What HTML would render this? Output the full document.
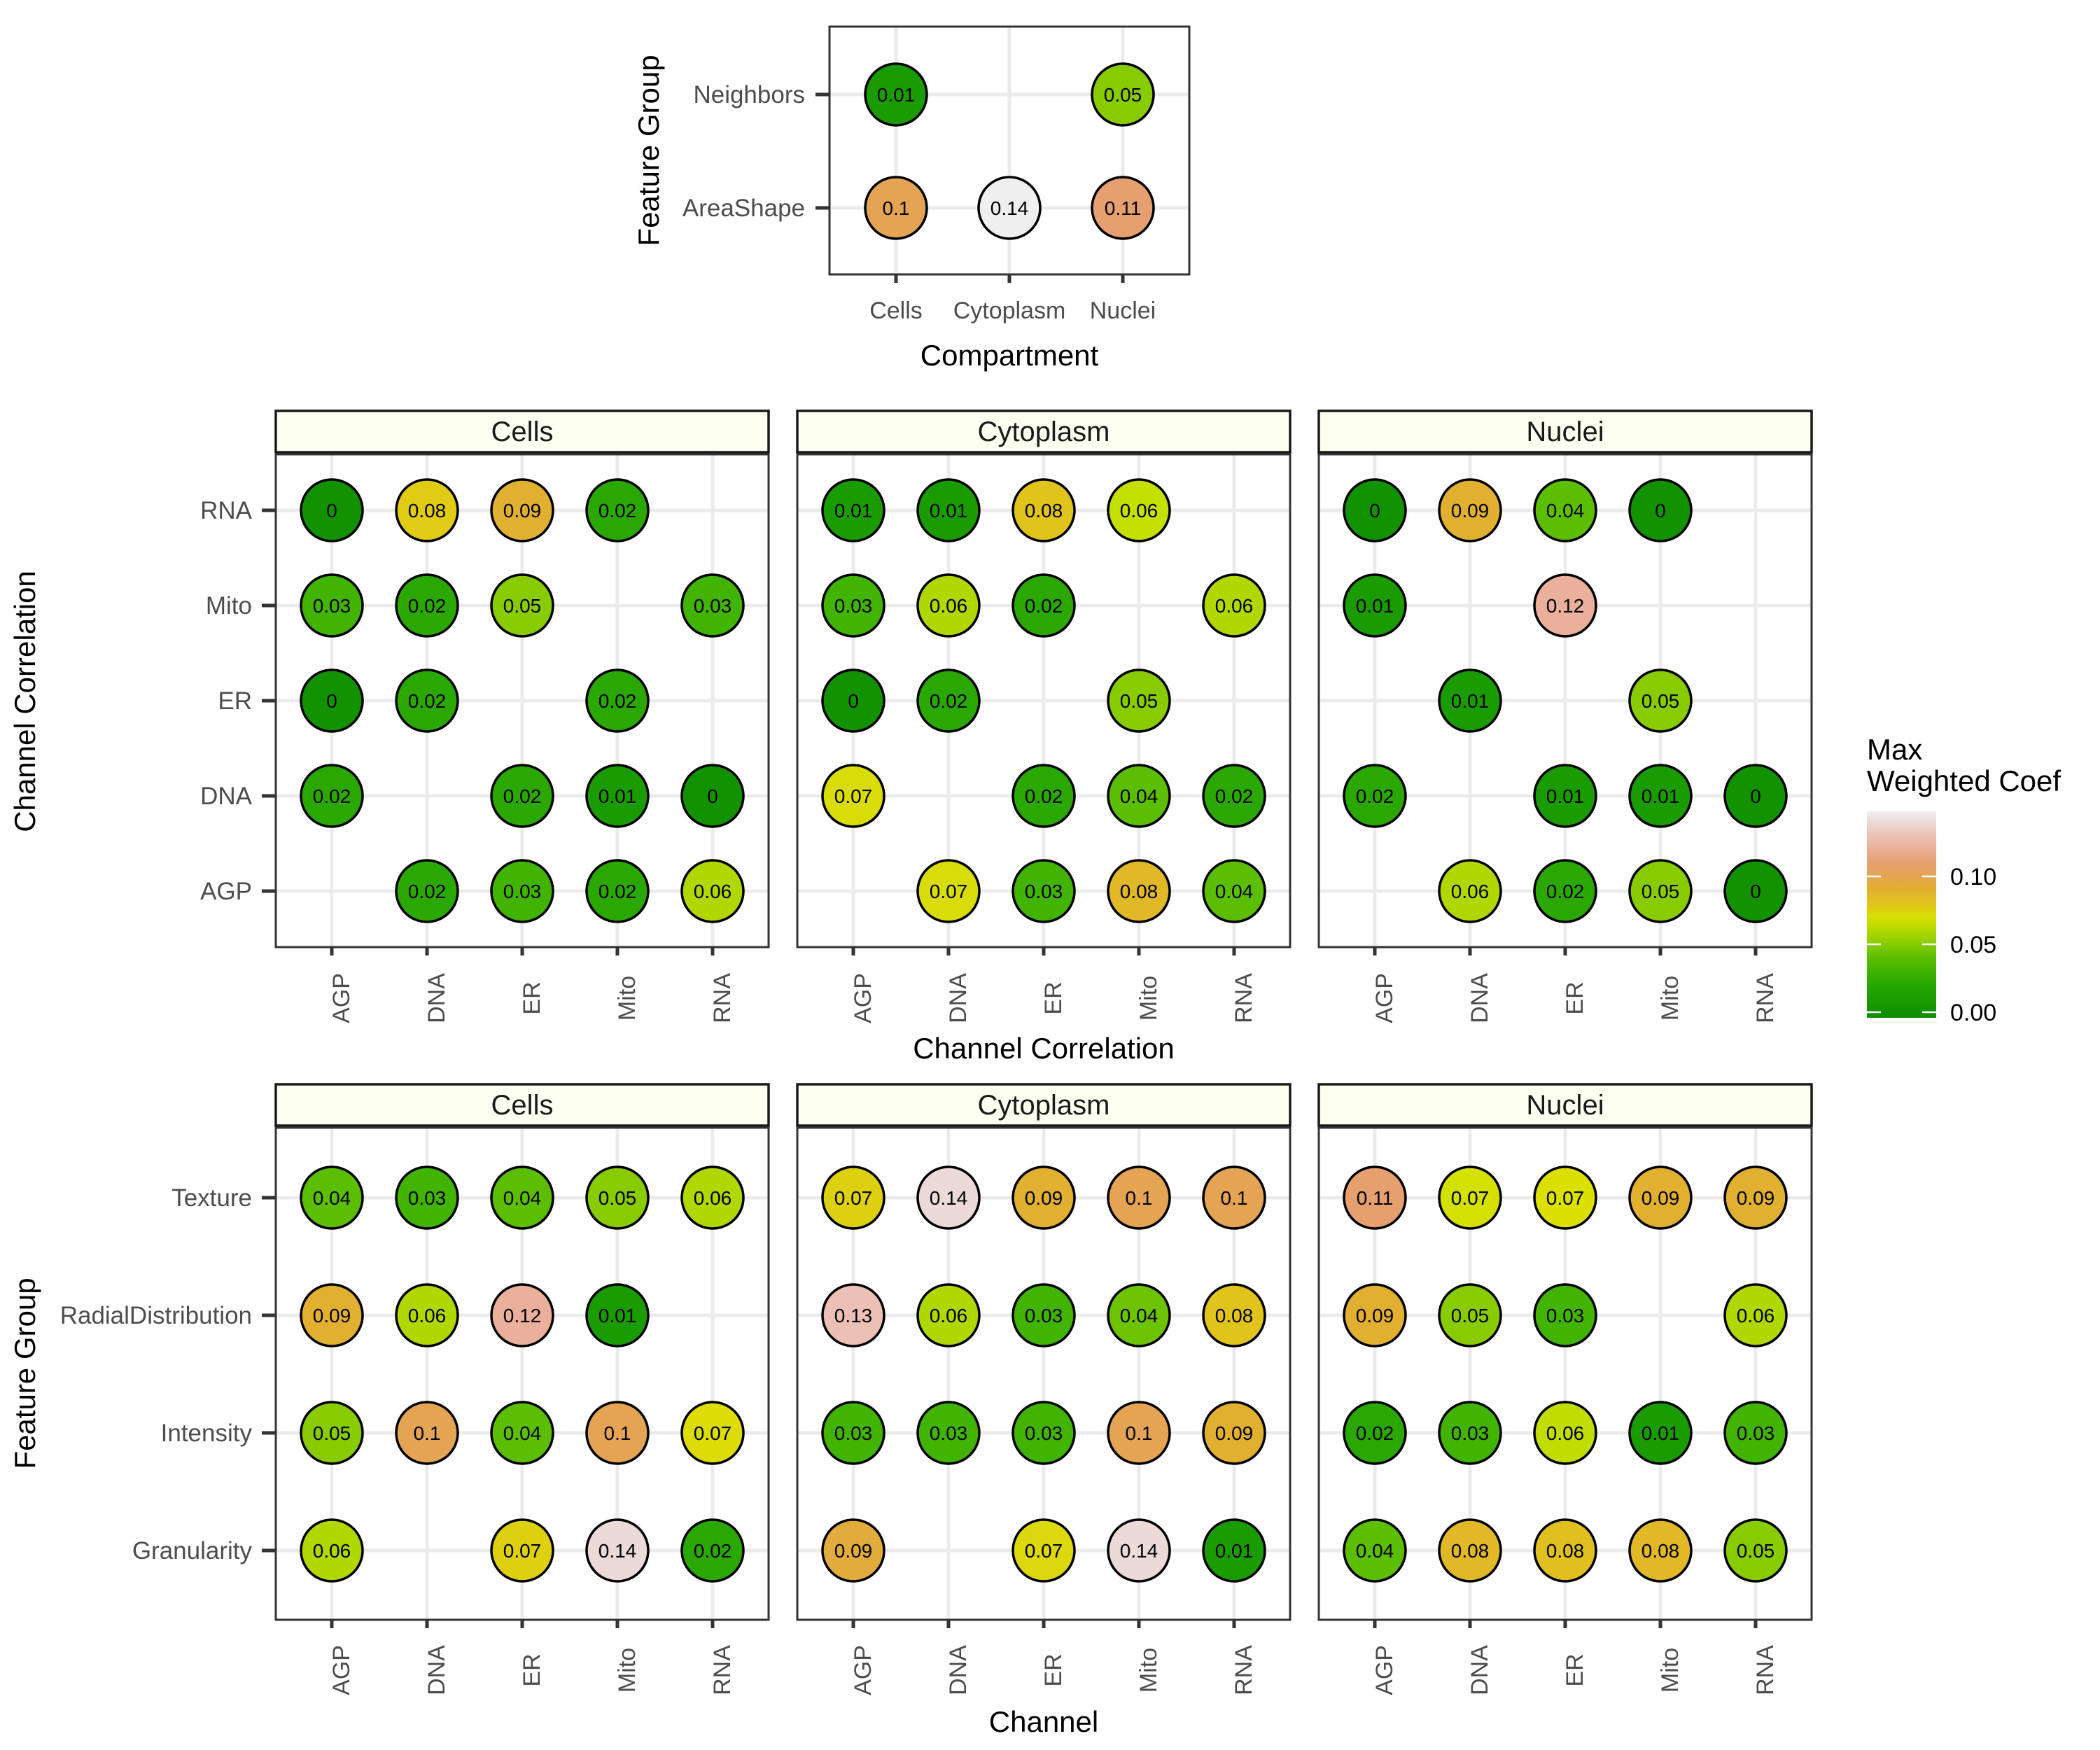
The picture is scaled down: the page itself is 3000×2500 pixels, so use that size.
<!DOCTYPE html>
<html><head><meta charset="utf-8"><style>
html,body{margin:0;padding:0;background:#fff;}
svg{display:block;font-family:"Liberation Sans",Arial,sans-serif;}
.c{stroke:#000;stroke-width:3.5}
.v{font-size:28px;text-anchor:middle;fill:#000}
.yl{font-size:35px;text-anchor:end;fill:#4d4d4d}
.xl{font-size:34px;text-anchor:middle;fill:#4d4d4d}
.st{font-size:40px;text-anchor:middle;fill:#1a1a1a}
.at{font-size:42px;text-anchor:middle;fill:#000}
.g{stroke:#ebebeb;stroke-width:5}
.tk{stroke:#333;stroke-width:5}
.pb{fill:none;stroke:#333;stroke-width:3}
.sb{fill:#fdfff0;stroke:#1a1a1a;stroke-width:3.5}
</style></head><body>
<svg width="3000" height="2500" viewBox="0 0 3000 2500" xmlns="http://www.w3.org/2000/svg">
<defs>
<linearGradient id="lg" x1="0" y1="0" x2="0" y2="1">
<stop offset="0" stop-color="#f0f0f0"/><stop offset="0.05" stop-color="#ecdcd8"/><stop offset="0.12" stop-color="#ecc0b4"/><stop offset="0.18" stop-color="#eab09c"/><stop offset="0.25" stop-color="#e6a070"/><stop offset="0.31" stop-color="#e4a454"/><stop offset="0.38" stop-color="#e2b030"/><stop offset="0.45" stop-color="#e0c41c"/><stop offset="0.51" stop-color="#d8e000"/><stop offset="0.58" stop-color="#b0d800"/><stop offset="0.64" stop-color="#88cc00"/><stop offset="0.71" stop-color="#5cbe00"/><stop offset="0.77" stop-color="#40b400"/><stop offset="0.84" stop-color="#2aa800"/><stop offset="0.91" stop-color="#1a9c00"/><stop offset="0.97" stop-color="#139200"/><stop offset="1" stop-color="#109000"/>
</linearGradient>
</defs>

<!-- TOP PANEL -->
<rect x="1185" y="38" width="514" height="354" fill="#fff"/>
<line class="g" x1="1280" y1="38" x2="1280" y2="392"/><line class="g" x1="1442" y1="38" x2="1442" y2="392"/><line class="g" x1="1604" y1="38" x2="1604" y2="392"/>
<line class="g" x1="1185" y1="135" x2="1699" y2="135"/><line class="g" x1="1185" y1="297" x2="1699" y2="297"/>
<circle class="c" cx="1280" cy="135" r="44" fill="#1a9c00"/><text class="v" x="1280" y="145">0.01</text>
<circle class="c" cx="1604" cy="135" r="44" fill="#88cc00"/><text class="v" x="1604" y="145">0.05</text>
<circle class="c" cx="1280" cy="297" r="44" fill="#e4a454"/><text class="v" x="1280" y="307">0.1</text>
<circle class="c" cx="1442" cy="297" r="44" fill="#efefef"/><text class="v" x="1442" y="307">0.14</text>
<circle class="c" cx="1604" cy="297" r="44" fill="#e6a070"/><text class="v" x="1604" y="307">0.11</text>
<rect class="pb" x="1185" y="38" width="514" height="354"/>
<line class="tk" x1="1165" y1="135" x2="1185" y2="135"/><line class="tk" x1="1165" y1="297" x2="1185" y2="297"/>
<line class="tk" x1="1280" y1="392" x2="1280" y2="404"/><line class="tk" x1="1442" y1="392" x2="1442" y2="404"/><line class="tk" x1="1604" y1="392" x2="1604" y2="404"/>
<text class="yl" x="1150" y="147">Neighbors</text><text class="yl" x="1150" y="309">AreaShape</text>
<text class="xl" x="1280" y="455">Cells</text><text class="xl" x="1442" y="455">Cytoplasm</text><text class="xl" x="1604" y="455">Nuclei</text>
<text class="at" x="1442" y="522">Compartment</text>
<text class="at" transform="translate(941,215) rotate(-90)">Feature Group</text>

<!-- MIDDLE ROW labels -->
<text class="yl" x="360" y="741">RNA</text><text class="yl" x="360" y="877">Mito</text><text class="yl" x="360" y="1013">ER</text><text class="yl" x="360" y="1149">DNA</text><text class="yl" x="360" y="1285">AGP</text>
<line class="tk" x1="374" y1="729" x2="394" y2="729"/><line class="tk" x1="374" y1="865" x2="394" y2="865"/><line class="tk" x1="374" y1="1001" x2="394" y2="1001"/><line class="tk" x1="374" y1="1137" x2="394" y2="1137"/><line class="tk" x1="374" y1="1273" x2="394" y2="1273"/>
<text class="at" transform="translate(50,1002) rotate(-90)">Channel Correlation</text>
<text class="at" x="1491" y="1512">Channel Correlation</text>

<!-- BOTTOM ROW labels -->
<text class="yl" x="360" y="1723">Texture</text><text class="yl" x="360" y="1891">RadialDistribution</text><text class="yl" x="360" y="2059">Intensity</text><text class="yl" x="360" y="2227">Granularity</text>
<line class="tk" x1="374" y1="1711" x2="394" y2="1711"/><line class="tk" x1="374" y1="1879" x2="394" y2="1879"/><line class="tk" x1="374" y1="2047" x2="394" y2="2047"/><line class="tk" x1="374" y1="2215" x2="394" y2="2215"/>
<text class="at" transform="translate(50,1962) rotate(-90)">Feature Group</text>
<text class="at" x="1491" y="2474">Channel</text>

<g transform="translate(394,0)">
<rect class="sb" x="0" y="587" width="704" height="59"/><text class="st" x="352" y="630">Cells</text>
<line class="g" x1="80" y1="649" x2="80" y2="1353"/><line class="g" x1="216" y1="649" x2="216" y2="1353"/><line class="g" x1="352" y1="649" x2="352" y2="1353"/><line class="g" x1="488" y1="649" x2="488" y2="1353"/><line class="g" x1="624" y1="649" x2="624" y2="1353"/>
<line class="g" x1="0" y1="729" x2="704" y2="729"/><line class="g" x1="0" y1="865" x2="704" y2="865"/><line class="g" x1="0" y1="1001" x2="704" y2="1001"/><line class="g" x1="0" y1="1137" x2="704" y2="1137"/><line class="g" x1="0" y1="1273" x2="704" y2="1273"/>
<circle class="c" cx="80" cy="729" r="44" fill="#139200"/><text class="v" x="80" y="739">0</text>
<circle class="c" cx="216" cy="729" r="44" fill="#e0cc14"/><text class="v" x="216" y="739">0.08</text>
<circle class="c" cx="352" cy="729" r="44" fill="#e2b030"/><text class="v" x="352" y="739">0.09</text>
<circle class="c" cx="488" cy="729" r="44" fill="#2aa800"/><text class="v" x="488" y="739">0.02</text>
<circle class="c" cx="80" cy="865" r="44" fill="#40b400"/><text class="v" x="80" y="875">0.03</text>
<circle class="c" cx="216" cy="865" r="44" fill="#2aa800"/><text class="v" x="216" y="875">0.02</text>
<circle class="c" cx="352" cy="865" r="44" fill="#88cc00"/><text class="v" x="352" y="875">0.05</text>
<circle class="c" cx="624" cy="865" r="44" fill="#40b400"/><text class="v" x="624" y="875">0.03</text>
<circle class="c" cx="80" cy="1001" r="44" fill="#139200"/><text class="v" x="80" y="1011">0</text>
<circle class="c" cx="216" cy="1001" r="44" fill="#2aa800"/><text class="v" x="216" y="1011">0.02</text>
<circle class="c" cx="488" cy="1001" r="44" fill="#2aa800"/><text class="v" x="488" y="1011">0.02</text>
<circle class="c" cx="80" cy="1137" r="44" fill="#2aa800"/><text class="v" x="80" y="1147">0.02</text>
<circle class="c" cx="352" cy="1137" r="44" fill="#2aa800"/><text class="v" x="352" y="1147">0.02</text>
<circle class="c" cx="488" cy="1137" r="44" fill="#1a9c00"/><text class="v" x="488" y="1147">0.01</text>
<circle class="c" cx="624" cy="1137" r="44" fill="#139200"/><text class="v" x="624" y="1147">0</text>
<circle class="c" cx="216" cy="1273" r="44" fill="#2aa800"/><text class="v" x="216" y="1283">0.02</text>
<circle class="c" cx="352" cy="1273" r="44" fill="#40b400"/><text class="v" x="352" y="1283">0.03</text>
<circle class="c" cx="488" cy="1273" r="44" fill="#2aa800"/><text class="v" x="488" y="1283">0.02</text>
<circle class="c" cx="624" cy="1273" r="44" fill="#b0d800"/><text class="v" x="624" y="1283">0.06</text>
<rect class="pb" x="0" y="649" width="704" height="704"/>
<line class="tk" x1="80" y1="1353" x2="80" y2="1365"/><line class="tk" x1="216" y1="1353" x2="216" y2="1365"/><line class="tk" x1="352" y1="1353" x2="352" y2="1365"/><line class="tk" x1="488" y1="1353" x2="488" y2="1365"/><line class="tk" x1="624" y1="1353" x2="624" y2="1365"/>
<text class="xl" transform="translate(105,1426) rotate(-90)">AGP</text><text class="xl" transform="translate(241,1426) rotate(-90)">DNA</text><text class="xl" transform="translate(377,1426) rotate(-90)">ER</text><text class="xl" transform="translate(513,1426) rotate(-90)">Mito</text><text class="xl" transform="translate(649,1426) rotate(-90)">RNA</text>
</g>

<g transform="translate(1139,0)">
<rect class="sb" x="0" y="587" width="704" height="59"/><text class="st" x="352" y="630">Cytoplasm</text>
<line class="g" x1="80" y1="649" x2="80" y2="1353"/><line class="g" x1="216" y1="649" x2="216" y2="1353"/><line class="g" x1="352" y1="649" x2="352" y2="1353"/><line class="g" x1="488" y1="649" x2="488" y2="1353"/><line class="g" x1="624" y1="649" x2="624" y2="1353"/>
<line class="g" x1="0" y1="729" x2="704" y2="729"/><line class="g" x1="0" y1="865" x2="704" y2="865"/><line class="g" x1="0" y1="1001" x2="704" y2="1001"/><line class="g" x1="0" y1="1137" x2="704" y2="1137"/><line class="g" x1="0" y1="1273" x2="704" y2="1273"/>
<circle class="c" cx="80" cy="729" r="44" fill="#1a9c00"/><text class="v" x="80" y="739">0.01</text>
<circle class="c" cx="216" cy="729" r="44" fill="#1a9c00"/><text class="v" x="216" y="739">0.01</text>
<circle class="c" cx="352" cy="729" r="44" fill="#e0c41c"/><text class="v" x="352" y="739">0.08</text>
<circle class="c" cx="488" cy="729" r="44" fill="#c4e000"/><text class="v" x="488" y="739">0.06</text>
<circle class="c" cx="80" cy="865" r="44" fill="#40b400"/><text class="v" x="80" y="875">0.03</text>
<circle class="c" cx="216" cy="865" r="44" fill="#b0d800"/><text class="v" x="216" y="875">0.06</text>
<circle class="c" cx="352" cy="865" r="44" fill="#2aa800"/><text class="v" x="352" y="875">0.02</text>
<circle class="c" cx="624" cy="865" r="44" fill="#b0d800"/><text class="v" x="624" y="875">0.06</text>
<circle class="c" cx="80" cy="1001" r="44" fill="#139200"/><text class="v" x="80" y="1011">0</text>
<circle class="c" cx="216" cy="1001" r="44" fill="#2aa800"/><text class="v" x="216" y="1011">0.02</text>
<circle class="c" cx="488" cy="1001" r="44" fill="#88cc00"/><text class="v" x="488" y="1011">0.05</text>
<circle class="c" cx="80" cy="1137" r="44" fill="#d8dc08"/><text class="v" x="80" y="1147">0.07</text>
<circle class="c" cx="352" cy="1137" r="44" fill="#2aa800"/><text class="v" x="352" y="1147">0.02</text>
<circle class="c" cx="488" cy="1137" r="44" fill="#5cbe00"/><text class="v" x="488" y="1147">0.04</text>
<circle class="c" cx="624" cy="1137" r="44" fill="#2aa800"/><text class="v" x="624" y="1147">0.02</text>
<circle class="c" cx="216" cy="1273" r="44" fill="#d8dc08"/><text class="v" x="216" y="1283">0.07</text>
<circle class="c" cx="352" cy="1273" r="44" fill="#40b400"/><text class="v" x="352" y="1283">0.03</text>
<circle class="c" cx="488" cy="1273" r="44" fill="#e0b828"/><text class="v" x="488" y="1283">0.08</text>
<circle class="c" cx="624" cy="1273" r="44" fill="#5cbe00"/><text class="v" x="624" y="1283">0.04</text>
<rect class="pb" x="0" y="649" width="704" height="704"/>
<line class="tk" x1="80" y1="1353" x2="80" y2="1365"/><line class="tk" x1="216" y1="1353" x2="216" y2="1365"/><line class="tk" x1="352" y1="1353" x2="352" y2="1365"/><line class="tk" x1="488" y1="1353" x2="488" y2="1365"/><line class="tk" x1="624" y1="1353" x2="624" y2="1365"/>
<text class="xl" transform="translate(105,1426) rotate(-90)">AGP</text><text class="xl" transform="translate(241,1426) rotate(-90)">DNA</text><text class="xl" transform="translate(377,1426) rotate(-90)">ER</text><text class="xl" transform="translate(513,1426) rotate(-90)">Mito</text><text class="xl" transform="translate(649,1426) rotate(-90)">RNA</text>
</g>

<g transform="translate(1884,0)">
<rect class="sb" x="0" y="587" width="704" height="59"/><text class="st" x="352" y="630">Nuclei</text>
<line class="g" x1="80" y1="649" x2="80" y2="1353"/><line class="g" x1="216" y1="649" x2="216" y2="1353"/><line class="g" x1="352" y1="649" x2="352" y2="1353"/><line class="g" x1="488" y1="649" x2="488" y2="1353"/><line class="g" x1="624" y1="649" x2="624" y2="1353"/>
<line class="g" x1="0" y1="729" x2="704" y2="729"/><line class="g" x1="0" y1="865" x2="704" y2="865"/><line class="g" x1="0" y1="1001" x2="704" y2="1001"/><line class="g" x1="0" y1="1137" x2="704" y2="1137"/><line class="g" x1="0" y1="1273" x2="704" y2="1273"/>
<circle class="c" cx="80" cy="729" r="44" fill="#139200"/><text class="v" x="80" y="739">0</text>
<circle class="c" cx="216" cy="729" r="44" fill="#e2b030"/><text class="v" x="216" y="739">0.09</text>
<circle class="c" cx="352" cy="729" r="44" fill="#5cbe00"/><text class="v" x="352" y="739">0.04</text>
<circle class="c" cx="488" cy="729" r="44" fill="#139200"/><text class="v" x="488" y="739">0</text>
<circle class="c" cx="80" cy="865" r="44" fill="#1a9c00"/><text class="v" x="80" y="875">0.01</text>
<circle class="c" cx="352" cy="865" r="44" fill="#eab09c"/><text class="v" x="352" y="875">0.12</text>
<circle class="c" cx="216" cy="1001" r="44" fill="#1a9c00"/><text class="v" x="216" y="1011">0.01</text>
<circle class="c" cx="488" cy="1001" r="44" fill="#88cc00"/><text class="v" x="488" y="1011">0.05</text>
<circle class="c" cx="80" cy="1137" r="44" fill="#2aa800"/><text class="v" x="80" y="1147">0.02</text>
<circle class="c" cx="352" cy="1137" r="44" fill="#1a9c00"/><text class="v" x="352" y="1147">0.01</text>
<circle class="c" cx="488" cy="1137" r="44" fill="#1a9c00"/><text class="v" x="488" y="1147">0.01</text>
<circle class="c" cx="624" cy="1137" r="44" fill="#139200"/><text class="v" x="624" y="1147">0</text>
<circle class="c" cx="216" cy="1273" r="44" fill="#b0d800"/><text class="v" x="216" y="1283">0.06</text>
<circle class="c" cx="352" cy="1273" r="44" fill="#2aa800"/><text class="v" x="352" y="1283">0.02</text>
<circle class="c" cx="488" cy="1273" r="44" fill="#88cc00"/><text class="v" x="488" y="1283">0.05</text>
<circle class="c" cx="624" cy="1273" r="44" fill="#139200"/><text class="v" x="624" y="1283">0</text>
<rect class="pb" x="0" y="649" width="704" height="704"/>
<line class="tk" x1="80" y1="1353" x2="80" y2="1365"/><line class="tk" x1="216" y1="1353" x2="216" y2="1365"/><line class="tk" x1="352" y1="1353" x2="352" y2="1365"/><line class="tk" x1="488" y1="1353" x2="488" y2="1365"/><line class="tk" x1="624" y1="1353" x2="624" y2="1365"/>
<text class="xl" transform="translate(105,1426) rotate(-90)">AGP</text><text class="xl" transform="translate(241,1426) rotate(-90)">DNA</text><text class="xl" transform="translate(377,1426) rotate(-90)">ER</text><text class="xl" transform="translate(513,1426) rotate(-90)">Mito</text><text class="xl" transform="translate(649,1426) rotate(-90)">RNA</text>
</g>

<g transform="translate(394,0)">
<rect class="sb" x="0" y="1549" width="704" height="59"/><text class="st" x="352" y="1592">Cells</text>
<line class="g" x1="80" y1="1611" x2="80" y2="2314"/><line class="g" x1="216" y1="1611" x2="216" y2="2314"/><line class="g" x1="352" y1="1611" x2="352" y2="2314"/><line class="g" x1="488" y1="1611" x2="488" y2="2314"/><line class="g" x1="624" y1="1611" x2="624" y2="2314"/>
<line class="g" x1="0" y1="1711" x2="704" y2="1711"/><line class="g" x1="0" y1="1879" x2="704" y2="1879"/><line class="g" x1="0" y1="2047" x2="704" y2="2047"/><line class="g" x1="0" y1="2215" x2="704" y2="2215"/>
<circle class="c" cx="80" cy="1711" r="44" fill="#5cbe00"/><text class="v" x="80" y="1721">0.04</text>
<circle class="c" cx="216" cy="1711" r="44" fill="#40b400"/><text class="v" x="216" y="1721">0.03</text>
<circle class="c" cx="352" cy="1711" r="44" fill="#5cbe00"/><text class="v" x="352" y="1721">0.04</text>
<circle class="c" cx="488" cy="1711" r="44" fill="#88cc00"/><text class="v" x="488" y="1721">0.05</text>
<circle class="c" cx="624" cy="1711" r="44" fill="#b0d800"/><text class="v" x="624" y="1721">0.06</text>
<circle class="c" cx="80" cy="1879" r="44" fill="#e2b030"/><text class="v" x="80" y="1889">0.09</text>
<circle class="c" cx="216" cy="1879" r="44" fill="#b0d800"/><text class="v" x="216" y="1889">0.06</text>
<circle class="c" cx="352" cy="1879" r="44" fill="#eab09c"/><text class="v" x="352" y="1889">0.12</text>
<circle class="c" cx="488" cy="1879" r="44" fill="#1a9c00"/><text class="v" x="488" y="1889">0.01</text>
<circle class="c" cx="80" cy="2047" r="44" fill="#88cc00"/><text class="v" x="80" y="2057">0.05</text>
<circle class="c" cx="216" cy="2047" r="44" fill="#e4a454"/><text class="v" x="216" y="2057">0.1</text>
<circle class="c" cx="352" cy="2047" r="44" fill="#5cbe00"/><text class="v" x="352" y="2057">0.04</text>
<circle class="c" cx="488" cy="2047" r="44" fill="#e4a454"/><text class="v" x="488" y="2057">0.1</text>
<circle class="c" cx="624" cy="2047" r="44" fill="#dcdc08"/><text class="v" x="624" y="2057">0.07</text>
<circle class="c" cx="80" cy="2215" r="44" fill="#b0d800"/><text class="v" x="80" y="2225">0.06</text>
<circle class="c" cx="352" cy="2215" r="44" fill="#dcd010"/><text class="v" x="352" y="2225">0.07</text>
<circle class="c" cx="488" cy="2215" r="44" fill="#ecdad8"/><text class="v" x="488" y="2225">0.14</text>
<circle class="c" cx="624" cy="2215" r="44" fill="#2aa800"/><text class="v" x="624" y="2225">0.02</text>
<rect class="pb" x="0" y="1611" width="704" height="703"/>
<line class="tk" x1="80" y1="2314" x2="80" y2="2326"/><line class="tk" x1="216" y1="2314" x2="216" y2="2326"/><line class="tk" x1="352" y1="2314" x2="352" y2="2326"/><line class="tk" x1="488" y1="2314" x2="488" y2="2326"/><line class="tk" x1="624" y1="2314" x2="624" y2="2326"/>
<text class="xl" transform="translate(105,2386) rotate(-90)">AGP</text><text class="xl" transform="translate(241,2386) rotate(-90)">DNA</text><text class="xl" transform="translate(377,2386) rotate(-90)">ER</text><text class="xl" transform="translate(513,2386) rotate(-90)">Mito</text><text class="xl" transform="translate(649,2386) rotate(-90)">RNA</text>
</g>

<g transform="translate(1139,0)">
<rect class="sb" x="0" y="1549" width="704" height="59"/><text class="st" x="352" y="1592">Cytoplasm</text>
<line class="g" x1="80" y1="1611" x2="80" y2="2314"/><line class="g" x1="216" y1="1611" x2="216" y2="2314"/><line class="g" x1="352" y1="1611" x2="352" y2="2314"/><line class="g" x1="488" y1="1611" x2="488" y2="2314"/><line class="g" x1="624" y1="1611" x2="624" y2="2314"/>
<line class="g" x1="0" y1="1711" x2="704" y2="1711"/><line class="g" x1="0" y1="1879" x2="704" y2="1879"/><line class="g" x1="0" y1="2047" x2="704" y2="2047"/><line class="g" x1="0" y1="2215" x2="704" y2="2215"/>
<circle class="c" cx="80" cy="1711" r="44" fill="#dcd010"/><text class="v" x="80" y="1721">0.07</text>
<circle class="c" cx="216" cy="1711" r="44" fill="#ecdad8"/><text class="v" x="216" y="1721">0.14</text>
<circle class="c" cx="352" cy="1711" r="44" fill="#e2b030"/><text class="v" x="352" y="1721">0.09</text>
<circle class="c" cx="488" cy="1711" r="44" fill="#e4a454"/><text class="v" x="488" y="1721">0.1</text>
<circle class="c" cx="624" cy="1711" r="44" fill="#e4a454"/><text class="v" x="624" y="1721">0.1</text>
<circle class="c" cx="80" cy="1879" r="44" fill="#ecc0b4"/><text class="v" x="80" y="1889">0.13</text>
<circle class="c" cx="216" cy="1879" r="44" fill="#b0d800"/><text class="v" x="216" y="1889">0.06</text>
<circle class="c" cx="352" cy="1879" r="44" fill="#40b400"/><text class="v" x="352" y="1889">0.03</text>
<circle class="c" cx="488" cy="1879" r="44" fill="#6cc400"/><text class="v" x="488" y="1889">0.04</text>
<circle class="c" cx="624" cy="1879" r="44" fill="#e0c41c"/><text class="v" x="624" y="1889">0.08</text>
<circle class="c" cx="80" cy="2047" r="44" fill="#40b400"/><text class="v" x="80" y="2057">0.03</text>
<circle class="c" cx="216" cy="2047" r="44" fill="#40b400"/><text class="v" x="216" y="2057">0.03</text>
<circle class="c" cx="352" cy="2047" r="44" fill="#40b400"/><text class="v" x="352" y="2057">0.03</text>
<circle class="c" cx="488" cy="2047" r="44" fill="#e4a454"/><text class="v" x="488" y="2057">0.1</text>
<circle class="c" cx="624" cy="2047" r="44" fill="#e2b030"/><text class="v" x="624" y="2057">0.09</text>
<circle class="c" cx="80" cy="2215" r="44" fill="#e2ac3c"/><text class="v" x="80" y="2225">0.09</text>
<circle class="c" cx="352" cy="2215" r="44" fill="#dcd80c"/><text class="v" x="352" y="2225">0.07</text>
<circle class="c" cx="488" cy="2215" r="44" fill="#ecdad8"/><text class="v" x="488" y="2225">0.14</text>
<circle class="c" cx="624" cy="2215" r="44" fill="#1a9c00"/><text class="v" x="624" y="2225">0.01</text>
<rect class="pb" x="0" y="1611" width="704" height="703"/>
<line class="tk" x1="80" y1="2314" x2="80" y2="2326"/><line class="tk" x1="216" y1="2314" x2="216" y2="2326"/><line class="tk" x1="352" y1="2314" x2="352" y2="2326"/><line class="tk" x1="488" y1="2314" x2="488" y2="2326"/><line class="tk" x1="624" y1="2314" x2="624" y2="2326"/>
<text class="xl" transform="translate(105,2386) rotate(-90)">AGP</text><text class="xl" transform="translate(241,2386) rotate(-90)">DNA</text><text class="xl" transform="translate(377,2386) rotate(-90)">ER</text><text class="xl" transform="translate(513,2386) rotate(-90)">Mito</text><text class="xl" transform="translate(649,2386) rotate(-90)">RNA</text>
</g>

<g transform="translate(1884,0)">
<rect class="sb" x="0" y="1549" width="704" height="59"/><text class="st" x="352" y="1592">Nuclei</text>
<line class="g" x1="80" y1="1611" x2="80" y2="2314"/><line class="g" x1="216" y1="1611" x2="216" y2="2314"/><line class="g" x1="352" y1="1611" x2="352" y2="2314"/><line class="g" x1="488" y1="1611" x2="488" y2="2314"/><line class="g" x1="624" y1="1611" x2="624" y2="2314"/>
<line class="g" x1="0" y1="1711" x2="704" y2="1711"/><line class="g" x1="0" y1="1879" x2="704" y2="1879"/><line class="g" x1="0" y1="2047" x2="704" y2="2047"/><line class="g" x1="0" y1="2215" x2="704" y2="2215"/>
<circle class="c" cx="80" cy="1711" r="44" fill="#e6a070"/><text class="v" x="80" y="1721">0.11</text>
<circle class="c" cx="216" cy="1711" r="44" fill="#d4e000"/><text class="v" x="216" y="1721">0.07</text>
<circle class="c" cx="352" cy="1711" r="44" fill="#dce000"/><text class="v" x="352" y="1721">0.07</text>
<circle class="c" cx="488" cy="1711" r="44" fill="#e2b030"/><text class="v" x="488" y="1721">0.09</text>
<circle class="c" cx="624" cy="1711" r="44" fill="#e2b030"/><text class="v" x="624" y="1721">0.09</text>
<circle class="c" cx="80" cy="1879" r="44" fill="#e2b030"/><text class="v" x="80" y="1889">0.09</text>
<circle class="c" cx="216" cy="1879" r="44" fill="#88cc00"/><text class="v" x="216" y="1889">0.05</text>
<circle class="c" cx="352" cy="1879" r="44" fill="#40b400"/><text class="v" x="352" y="1889">0.03</text>
<circle class="c" cx="624" cy="1879" r="44" fill="#b0d800"/><text class="v" x="624" y="1889">0.06</text>
<circle class="c" cx="80" cy="2047" r="44" fill="#2aa800"/><text class="v" x="80" y="2057">0.02</text>
<circle class="c" cx="216" cy="2047" r="44" fill="#40b400"/><text class="v" x="216" y="2057">0.03</text>
<circle class="c" cx="352" cy="2047" r="44" fill="#c0dc00"/><text class="v" x="352" y="2057">0.06</text>
<circle class="c" cx="488" cy="2047" r="44" fill="#1a9c00"/><text class="v" x="488" y="2057">0.01</text>
<circle class="c" cx="624" cy="2047" r="44" fill="#40b400"/><text class="v" x="624" y="2057">0.03</text>
<circle class="c" cx="80" cy="2215" r="44" fill="#5cbe00"/><text class="v" x="80" y="2225">0.04</text>
<circle class="c" cx="216" cy="2215" r="44" fill="#e0b828"/><text class="v" x="216" y="2225">0.08</text>
<circle class="c" cx="352" cy="2215" r="44" fill="#e0c020"/><text class="v" x="352" y="2225">0.08</text>
<circle class="c" cx="488" cy="2215" r="44" fill="#e0b828"/><text class="v" x="488" y="2225">0.08</text>
<circle class="c" cx="624" cy="2215" r="44" fill="#88cc00"/><text class="v" x="624" y="2225">0.05</text>
<rect class="pb" x="0" y="1611" width="704" height="703"/>
<line class="tk" x1="80" y1="2314" x2="80" y2="2326"/><line class="tk" x1="216" y1="2314" x2="216" y2="2326"/><line class="tk" x1="352" y1="2314" x2="352" y2="2326"/><line class="tk" x1="488" y1="2314" x2="488" y2="2326"/><line class="tk" x1="624" y1="2314" x2="624" y2="2326"/>
<text class="xl" transform="translate(105,2386) rotate(-90)">AGP</text><text class="xl" transform="translate(241,2386) rotate(-90)">DNA</text><text class="xl" transform="translate(377,2386) rotate(-90)">ER</text><text class="xl" transform="translate(513,2386) rotate(-90)">Mito</text><text class="xl" transform="translate(649,2386) rotate(-90)">RNA</text>
</g>

<!-- LEGEND -->
<text x="2667" y="1085" font-size="42" fill="#000">Max</text>
<text x="2667" y="1130" font-size="42" fill="#000">Weighted Coef</text>
<rect x="2667" y="1159" width="99" height="295" fill="url(#lg)"/>
<g stroke="#fff" stroke-width="2.5">
<line x1="2667" y1="1252" x2="2687" y2="1252"/><line x1="2746" y1="1252" x2="2766" y2="1252"/>
<line x1="2667" y1="1349" x2="2687" y2="1349"/><line x1="2746" y1="1349" x2="2766" y2="1349"/>
<line x1="2667" y1="1446" x2="2687" y2="1446"/><line x1="2746" y1="1446" x2="2766" y2="1446"/>
</g>
<text x="2786" y="1264" font-size="34" fill="#000">0.10</text>
<text x="2786" y="1361" font-size="34" fill="#000">0.05</text>
<text x="2786" y="1458" font-size="34" fill="#000">0.00</text>
</svg>
</body></html>
